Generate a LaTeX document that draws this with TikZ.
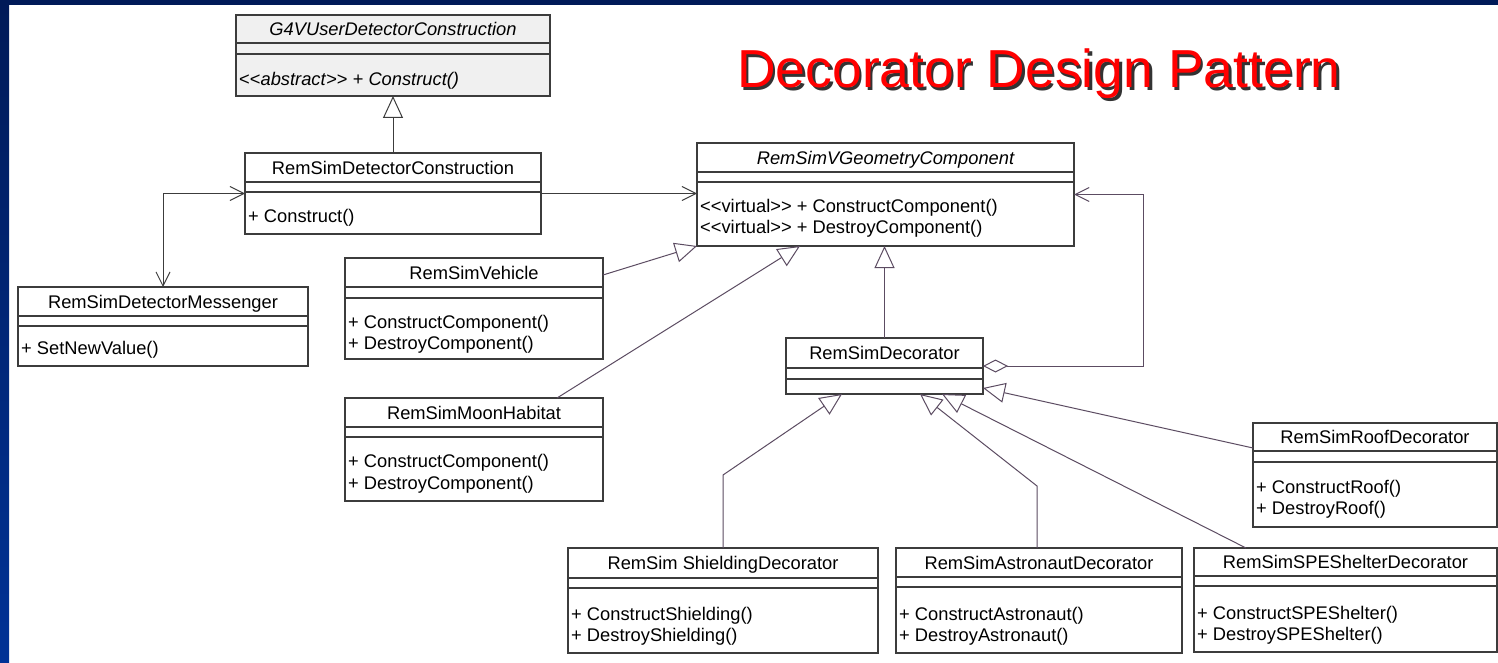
\documentclass[tikz,border=0pt]{standalone}
\usepackage{fontspec}
\setmainfont{Liberation Sans}
\usetikzlibrary{arrows.meta,calc}
\definecolor{navytop}{RGB}{0,26,88}
\definecolor{navybot}{RGB}{0,50,150}
\definecolor{boxline}{RGB}{60,60,60}
\definecolor{purp}{RGB}{92,76,98}
\definecolor{gfill}{RGB}{240,240,240}
\definecolor{titlered}{RGB}{255,0,0}
\tikzset{
  clsbox/.style={draw=boxline, line width=1.1pt, anchor=north west, inner sep=0pt, outer sep=0pt},
  sepline/.style={draw=boxline, line width=1.1pt},
  cname/.style={font=\fontsize{18.3}{21}\selectfont, inner sep=0pt, text height=13.1pt, text depth=0pt},
  cmeth/.style={font=\fontsize{18.3}{21}\selectfont, inner sep=0pt, anchor=west, text height=13.1pt, text depth=0pt},
  inh/.style={draw=#1, line width=1pt, -{Triangle[open, length=22pt, width=20pt]}},
  navtip/.style={line width=1pt, -{Straight Barb[length=14pt, width=14pt]}},
}
\newcommand\umlcls[8]{%
  \node[clsbox, fill=#8, minimum width=#4pt, minimum height=#5pt] (#1) at (#2,#3) {};
  \draw[sepline] ([yshift=-#6pt]#1.north west) -- ([yshift=-#6pt]#1.north east);
  \draw[sepline] ([yshift=-#7pt]#1.north west) -- ([yshift=-#7pt]#1.north east);
}
\newcommand\stl{<{}<}
\newcommand\stg{>{}>}
\begin{document}
\begin{tikzpicture}[x=1pt,y=-1pt]
\useasboundingbox (0,0) rectangle (1498,663);
\fill[white] (0,0) rectangle (1498,663);
\fill[navytop] (0,0) rectangle (1498,5);
\shade[top color=navytop, bottom color=navybot] (0,0) rectangle (9,663);

% title
\node[anchor=base, font=\fontsize{53.5}{60}\selectfont, text=black!80] (titleshadow) at (1041.5,90.5) {Decorator Design Pattern};
\node[anchor=base, font=\fontsize{53.5}{60}\selectfont, text=titlered] (title) at (1039,88) {Decorator Design Pattern};

% classes
\umlcls{g4v}{236}{15}{314}{81}{28}{39}{gfill}
\node[cname] (g4v-n) at ([yshift=-14pt]g4v.north) {\itshape G4VUserDetectorConstruction};
\node[cmeth] (g4v-m1) at ([xshift=3pt,yshift=-64pt]g4v.north west) {\stl\textit{abstract}\stg{} + \textit{Construct()}};

\umlcls{rsdc}{245}{153}{296}{81}{29}{39}{white}
\node[cname] (rsdc-n) at ([yshift=-15pt]rsdc.north) {RemSimDetectorConstruction};
\node[cmeth] (rsdc-m1) at ([xshift=3pt,yshift=-63pt]rsdc.north west) {+ Construct()};

\umlcls{rsvgc}{697}{143}{377}{103}{29}{39}{white}
\node[cname] (rsvgc-n) at ([yshift=-14.5pt]rsvgc.north) {\itshape RemSimVGeometryComponent};
\node[cmeth] (rsvgc-m1) at ([xshift=3pt,yshift=-63pt]rsvgc.north west) {\stl virtual\stg{} + ConstructComponent()};
\node[cmeth] (rsvgc-m2) at ([xshift=3pt,yshift=-84pt]rsvgc.north west) {\stl virtual\stg{} + DestroyComponent()};

\umlcls{msg}{18}{287}{290}{79}{29}{39}{white}
\node[cname] (msg-n) at ([yshift=-14.5pt]msg.north) {RemSimDetectorMessenger};
\node[cmeth] (msg-m1) at ([xshift=3pt,yshift=-61pt]msg.north west) {+ SetNewValue()};

\umlcls{veh}{345}{258}{258}{101}{29}{40}{white}
\node[cname] (veh-n) at ([yshift=-14.5pt]veh.north) {RemSimVehicle};
\node[cmeth] (veh-m1) at ([xshift=3pt,yshift=-64pt]veh.north west) {+ ConstructComponent()};
\node[cmeth] (veh-m2) at ([xshift=3pt,yshift=-85pt]veh.north west) {+ DestroyComponent()};

\umlcls{moon}{345}{398}{258}{103}{29}{39}{white}
\node[cname] (moon-n) at ([yshift=-14.5pt]moon.north) {RemSimMoonHabitat};
\node[cmeth] (moon-m1) at ([xshift=3pt,yshift=-63pt]moon.north west) {+ ConstructComponent()};
\node[cmeth] (moon-m2) at ([xshift=3pt,yshift=-85pt]moon.north west) {+ DestroyComponent()};

\umlcls{dec}{786}{338}{197}{56}{30}{41}{white}
\node[cname] (dec-n) at ([yshift=-15pt]dec.north) {RemSimDecorator};

\umlcls{roof}{1253}{423}{244}{104}{28}{39}{white}
\node[cname] (roof-n) at ([yshift=-14pt]roof.north) {RemSimRoofDecorator};
\node[cmeth] (roof-m1) at ([xshift=3pt,yshift=-64pt]roof.north west) {+ ConstructRoof()};
\node[cmeth] (roof-m2) at ([xshift=3pt,yshift=-85pt]roof.north west) {+ DestroyRoof()};

\umlcls{shd}{568}{548}{310}{105}{30}{40}{white}
\node[cname] (shd-n) at ([yshift=-15pt]shd.north) {RemSim ShieldingDecorator};
\node[cmeth] (shd-m1) at ([xshift=3pt,yshift=-66pt]shd.north west) {+ ConstructShielding()};
\node[cmeth] (shd-m2) at ([xshift=3pt,yshift=-87pt]shd.north west) {+ DestroyShielding()};

\umlcls{ast}{896}{548}{286}{105}{29}{39}{white}
\node[cname] (ast-n) at ([yshift=-14.5pt]ast.north) {RemSimAstronautDecorator};
\node[cmeth] (ast-m1) at ([xshift=3pt,yshift=-66pt]ast.north west) {+ ConstructAstronaut()};
\node[cmeth] (ast-m2) at ([xshift=3pt,yshift=-87pt]ast.north west) {+ DestroyAstronaut()};

\umlcls{spe}{1194}{548}{303}{104}{28}{38}{white}
\node[cname] (spe-n) at ([yshift=-14pt]spe.north) {RemSimSPEShelterDecorator};
\node[cmeth] (spe-m1) at ([xshift=3pt,yshift=-65pt]spe.north west) {+ ConstructSPEShelter()};
\node[cmeth] (spe-m2) at ([xshift=3pt,yshift=-86pt]spe.north west) {+ DestroySPEShelter()};

% connectors
\draw[inh=boxline] (rsdc.north) -- (rsdc.north |- g4v.south);
\draw[navtip, draw=boxline] (rsdc.east) -- (rsdc.east -| rsvgc.west);
\draw[line width=1pt, draw=boxline, {Straight Barb[length=14pt, width=14pt]}-{Straight Barb[length=14pt, width=14pt]}] (rsdc.west) -| ([xshift=145pt]msg.north west);
\draw[inh=purp] ([yshift=-17pt]veh.north east) -- (rsvgc.south west);
\draw[inh=purp] ([xshift=212pt]moon.north west) -- ([xshift=103pt]rsvgc.south west);
\draw[inh=purp] (dec.north) -- (dec.north |- rsvgc.south);
\coordinate (aggx) at (1143,0);
\draw[draw=purp, line width=1pt, {Diamond[open, length=25pt, width=13pt]}-{Straight Barb[length=14pt, width=14pt]}] (dec.east) -| (aggx |- rsvgc.east) -- (rsvgc.east);
\coordinate (bs) at (723,475);
\draw[inh=purp] ([xshift=155pt]shd.north west) -- (bs) -- ([xshift=56pt]dec.south west);
\coordinate (ba) at (1037,486);
\draw[inh=purp] ([xshift=141pt]ast.north west) -- (ba) -- ([xshift=134pt]dec.south west);
\draw[inh=purp] ([xshift=52pt]spe.north west) -- ([xshift=156pt]dec.south west);
\draw[inh=purp] ([yshift=-25pt]roof.north west) -- ([yshift=6pt]dec.south east);
\end{tikzpicture}
\end{document}
